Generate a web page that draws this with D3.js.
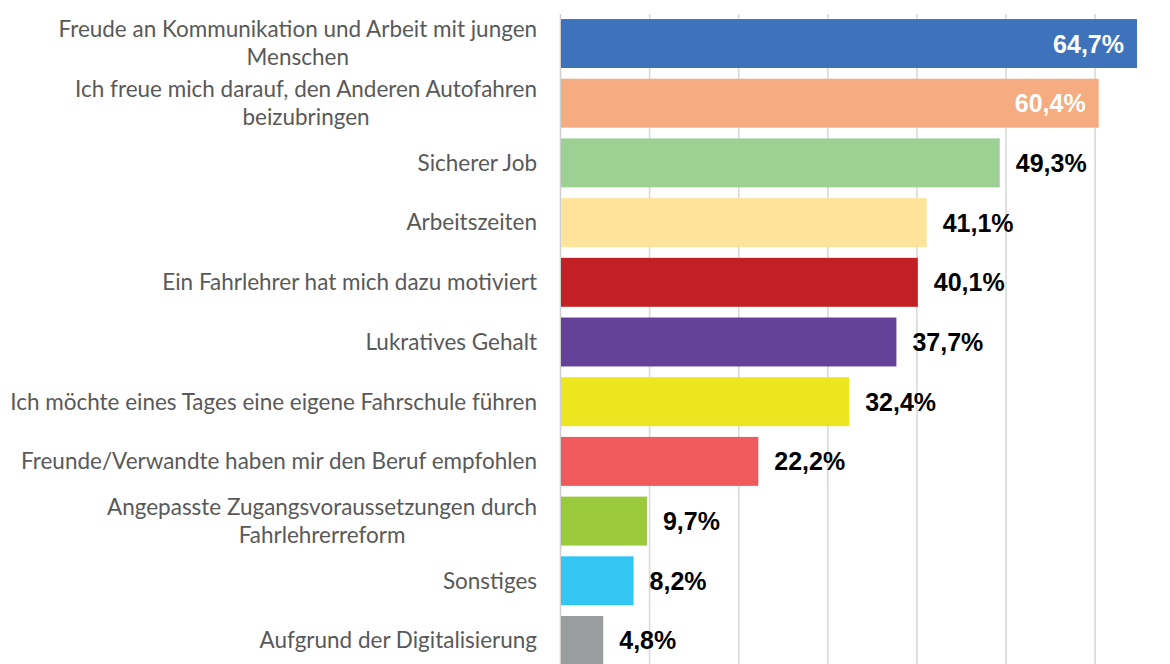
<!DOCTYPE html>
<html>
<head>
<meta charset="utf-8">
<script src="https://cdn.jsdelivr.net/npm/d3@7"></script>
<style>
  html, body { margin: 0; padding: 0; background: #ffffff; overflow: hidden; }
  svg { display: block; }
</style>
</head>
<body>
<svg id="chart" width="1170" height="664"></svg>
<script>
const categories = [
  "Freude an Kommunikation und Arbeit mit jungen\nMenschen",
  "Ich freue mich darauf, den Anderen Autofahren\nbeizubringen",
  "Sicherer Job",
  "Arbeitszeiten",
  "Ein Fahrlehrer hat mich dazu motiviert",
  "Lukratives Gehalt",
  "Ich möchte eines Tages eine eigene Fahrschule führen",
  "Freunde/Verwandte haben mir den Beruf empfohlen",
  "Angepasste Zugangsvoraussetzungen durch\nFahrlehrerreform",
  "Sonstiges",
  "Aufgrund der Digitalisierung"
];
const values = [64.7, 60.4, 49.3, 41.1, 40.1, 37.7, 32.4, 22.2, 9.7, 8.2, 4.8];
const colors = ["#3e73bb", "#f5ac80", "#9dd194", "#fee49a", "#c32026", "#65429a",
                "#ebe620", "#f05a5c", "#9bc93c", "#34c6f2", "#9a9d9e"];
const gridTicks = [0, 10, 20, 30, 40, 50, 60, 70];

const svg = d3.select("#chart");
const x = d3.scaleLinear().domain([0, 70]).range([560.5, 1184.2]);
const y = d3.scaleBand().domain(d3.range(categories.length))
  .range([8.3, 675.7]).paddingInner(0.18).paddingOuter(0.18);

// gridlines
svg.append("g").selectAll("line").data(gridTicks).join("line")
  .attr("x1", d => x(d)).attr("x2", d => x(d))
  .attr("y1", 14).attr("y2", 664)
  .attr("stroke", d => d === 0 ? "#cfcfcf" : "#d9d9d9")
  .attr("stroke-width", 1.6);

// bars
svg.append("g").selectAll("rect").data(values).join("rect")
  .attr("x", x(0) + 0.5)
  .attr("y", (d, i) => y(i))
  .attr("width", d => x(d) - x(0) - 0.5)
  .attr("height", y.bandwidth())
  .attr("fill", (d, i) => colors[i]);

// category labels
const labelFont = "Lato, 'Open Sans', sans-serif";
const labG = svg.append("g").attr("font-family", labelFont).attr("fill", "#595959");
const probe = labG.append("text").attr("font-size", 20).text(categories[6]);
const w20 = probe.node().getComputedTextLength();
probe.remove();
const fs = 20 * 527 / w20;
const rightEdge = 537;
const lineH = 28;
categories.forEach((c, i) => {
  const lines = c.split("\n");
  const t = labG.append("text").attr("font-size", fs);
  lines.forEach(l => t.append("tspan").text(l));
  let maxW = 0;
  t.selectAll("tspan").each(function () { maxW = Math.max(maxW, this.getComputedTextLength()); });
  const cx = rightEdge - maxW / 2;
  const cy = y(i) + y.bandwidth() / 2;
  const y0 = cy - (lines.length - 1) * lineH / 2;
  t.attr("text-anchor", "middle");
  t.selectAll("tspan")
    .attr("x", cx)
    .attr("y", (d, k) => y0 + k * lineH)
    .attr("dy", "0.35em");
});

// value labels
const fmt = v => d3.format(".1f")(v).replace(".", ",") + "%";
svg.append("g").selectAll("text").data(values).join("text")
  .attr("font-family", "'Liberation Sans', Arial, sans-serif")
  .attr("font-weight", "bold")
  .attr("font-size", 25)
  .attr("dy", "0.36em")
  .attr("y", (d, i) => y(i) + y.bandwidth() / 2)
  .attr("x", d => d > 55 ? x(d) - 13 : x(d) + 16)
  .attr("text-anchor", d => d > 55 ? "end" : "start")
  .attr("fill", d => d > 55 ? "#ffffff" : "#000000")
  .text(fmt);
</script>
</body>
</html>
